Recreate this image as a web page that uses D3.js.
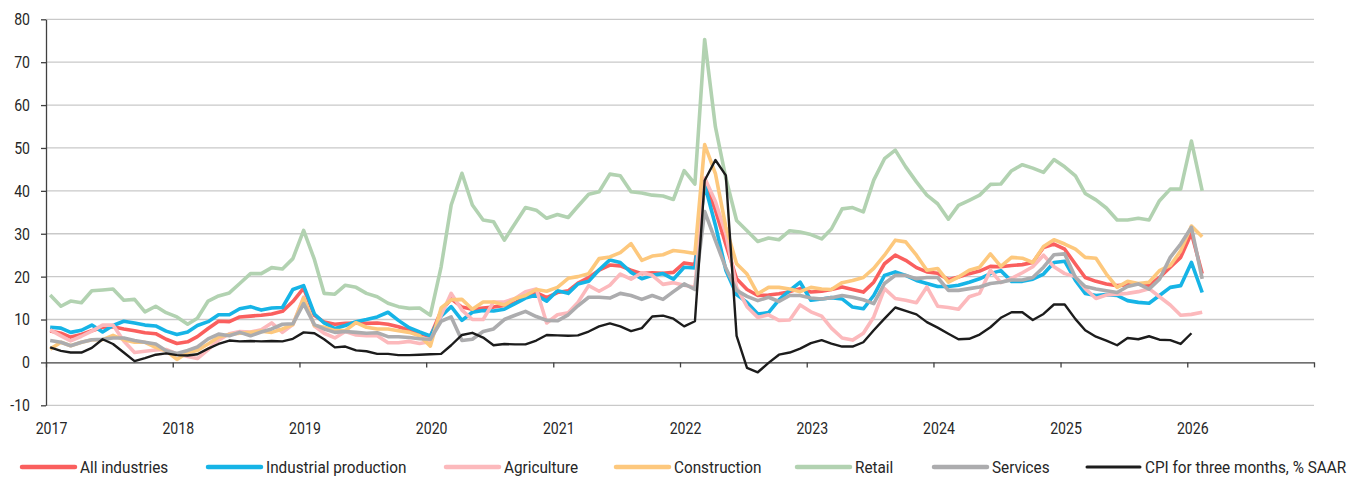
<!DOCTYPE html>
<html>
<head>
<meta charset="utf-8">
<script src="https://cdn.jsdelivr.net/npm/d3@7"></script>
<style>
  body { margin: 0; background: #fff; }
  text { font-family: Roboto, "Noto Sans", sans-serif; fill: #262626; }
</style>
</head>
<body>
<div id="chart"></div>
<script>
// monthly values, Jan 2017 .. Feb 2026 (CPI to Jan 2026)
var allIndustries = [
  7.3, 6.8, 5.9, 6.5, 7.4, 8.2, 8.3, 7.8, 7.4, 6.9, 6.7, 5.4,
  4.4, 4.8, 6.0, 7.9, 9.6, 9.5, 10.6, 10.8, 11.0, 11.3, 11.9, 14.2,
  17.3, 11.0, 9.4, 8.9, 9.1, 9.2, 9.1, 9.2, 8.9, 8.3, 7.5, 6.7,
  6.1, 12.0, 14.8, 12.9, 12.4, 12.7, 12.9, 13.3, 13.9, 15.3, 16.3, 15.1,
  16.3, 16.7, 18.5, 19.8, 21.5, 22.7, 22.5, 21.5, 20.7, 20.9, 20.8, 21.0,
  23.2, 22.8, 42.0, 35.5, 27.5, 19.5, 17.0, 15.6, 15.7, 16.0, 16.5, 17.2,
  16.4, 16.6, 17.0, 17.6, 17.0, 16.4, 18.7, 23.0, 25.0, 23.8, 22.1, 21.1,
  20.8, 19.3, 19.9, 20.7, 21.3, 22.4, 22.3, 22.6, 22.8, 23.3, 26.8, 27.6,
  26.4, 22.9, 19.8, 18.9, 18.3, 17.9, 18.1, 18.3, 17.9, 19.8, 22.2, 24.5,
  30.1, 20.7
];
var industrialProduction = [
  8.2, 8.0, 7.0, 7.5, 8.7, 7.1, 8.6, 9.6, 9.2, 8.7, 8.5, 7.3,
  6.5, 7.1, 8.6, 9.5, 11.1, 11.1, 12.5, 13.0, 12.2, 12.7, 12.8, 17.0,
  17.9, 11.3, 9.2, 7.9, 8.6, 9.5, 10.0, 10.6, 11.7, 9.8, 8.1, 7.1,
  6.2, 10.8, 13.0, 9.8, 11.7, 12.1, 12.0, 12.4, 13.7, 15.0, 15.7, 14.3,
  16.7, 16.1, 18.3, 18.9, 21.6, 23.9, 23.3, 21.0, 19.5, 20.3, 20.7, 19.4,
  22.2, 22.0, 41.5, 32.0, 21.5, 15.8, 14.0, 11.3, 11.6, 14.6, 16.8, 18.7,
  14.5, 14.8, 15.1, 14.8, 12.9, 12.5, 15.6, 20.3, 21.1, 20.3, 19.1, 18.4,
  17.7, 17.7, 18.0, 18.7, 19.5, 20.7, 21.4, 18.9, 18.9, 19.4, 20.6, 23.3,
  23.6, 19.1, 16.1, 15.6, 15.8, 15.6, 14.4, 14.0, 13.8, 15.6, 17.5, 17.9,
  23.3, 16.3
];
var agriculture = [
  7.6, 6.2, 5.0, 6.1, 7.3, 8.7, 8.7, 5.0, 2.3, 2.6, 2.9, 3.0,
  2.0, 1.4, 0.9, 3.0, 5.2, 6.7, 7.2, 7.1, 7.6, 9.2, 7.0, 8.8,
  15.2, 8.5, 6.8, 5.7, 7.2, 6.4, 6.2, 6.2, 4.6, 4.6, 4.9, 4.4,
  4.9, 11.0, 16.1, 12.2, 10.0, 10.0, 14.1, 14.1, 14.9, 16.5, 17.1, 9.2,
  11.1, 11.6, 14.0, 17.9, 16.6, 18.0, 20.6, 19.4, 20.9, 20.3, 18.2, 18.6,
  18.0, 17.5, 43.0, 37.5, 30.0, 17.5, 13.0, 10.5, 11.1, 9.8, 9.9, 13.4,
  11.8, 10.8, 8.0, 5.7, 5.2, 6.8, 10.6, 17.2, 14.9, 14.5, 13.9, 17.6,
  13.1, 12.8, 12.4, 15.3, 16.1, 21.5, 18.6, 19.6, 20.9, 22.3, 25.0, 22.3,
  20.7, 20.0, 17.2, 14.9, 15.7, 15.9, 16.1, 16.5, 17.2, 15.3, 13.4, 11.0,
  11.2, 11.7
];
var construction = [
  3.1, 4.7, 3.9, 4.7, 5.3, 5.3, 6.3, 5.3, 4.7, 4.7, 3.5, 2.7,
  0.7, 2.3, 2.8, 4.3, 5.9, 6.5, 6.8, 7.0, 7.3, 7.0, 7.8, 8.8,
  15.0, 8.6, 8.2, 7.4, 7.4, 9.3, 8.2, 7.8, 7.8, 7.4, 7.0, 6.2,
  3.8, 12.7, 14.6, 14.7, 12.4, 14.1, 14.1, 13.4, 14.9, 15.6, 17.0, 16.6,
  17.5, 19.6, 20.0, 20.7, 24.2, 24.6, 25.6, 27.7, 23.8, 24.8, 25.1, 26.1,
  25.8, 25.4, 50.8, 44.0, 31.6, 23.0, 20.6, 16.0, 17.5, 17.5, 17.1, 16.5,
  17.5, 17.1, 17.0, 18.6, 19.1, 19.8, 21.9, 25.0, 28.5, 28.1, 25.0, 21.5,
  21.9, 18.7, 19.9, 21.5, 22.2, 25.3, 22.4, 24.5, 24.3, 23.3, 27.0, 28.6,
  27.6, 26.4, 24.5, 24.3, 20.6, 17.5, 18.9, 18.4, 18.7, 21.4, 22.6, 26.0,
  31.8, 29.3
];
var retail = [
  15.7, 13.1, 14.3, 13.9, 16.7, 16.9, 17.1, 14.5, 14.7, 11.8, 13.1, 11.6,
  10.6, 8.9, 10.3, 14.3, 15.5, 16.2, 18.4, 20.7, 20.7, 22.1, 21.8, 24.2,
  30.8, 24.0, 16.1, 15.9, 18.0, 17.5, 16.1, 15.3, 13.8, 13.0, 12.6, 12.7,
  11.0, 22.3, 36.7, 44.1, 36.7, 33.2, 32.8, 28.5, 32.4, 36.1, 35.5, 33.6,
  34.5, 33.8, 36.4, 39.2, 39.8, 43.9, 43.5, 39.8, 39.5, 39.0, 38.8, 38.0,
  44.7, 41.6, 75.3, 54.9, 43.0, 33.1, 30.7, 28.2, 29.0, 28.6, 30.7, 30.4,
  29.8, 28.8, 31.1, 35.8, 36.1, 35.1, 42.5, 47.5, 49.5, 45.6, 42.1, 39.0,
  37.0, 33.4, 36.6, 37.8, 39.0, 41.5, 41.6, 44.7, 46.1, 45.3, 44.3, 47.3,
  45.6, 43.5, 39.4, 37.9, 36.0, 33.2, 33.2, 33.6, 33.2, 37.7, 40.4, 40.4,
  51.6, 40.0
];
var services = [
  5.1, 4.7, 3.9, 4.7, 5.3, 5.4, 5.7, 5.7, 5.1, 4.7, 4.3, 2.7,
  2.1, 2.8, 3.6, 5.5, 6.6, 6.2, 7.0, 6.2, 7.1, 7.8, 8.9, 9.0,
  13.7, 8.8, 7.8, 7.0, 7.2, 7.0, 6.8, 6.9, 6.0, 6.0, 5.8, 5.5,
  5.4, 9.6, 10.6, 5.1, 5.4, 7.2, 7.8, 10.0, 11.0, 11.9, 10.7, 9.8,
  9.7, 11.1, 13.2, 15.2, 15.2, 15.0, 16.1, 15.6, 14.7, 15.6, 14.7, 16.5,
  18.3, 17.0, 35.2, 28.4, 22.0, 16.8, 15.4, 14.4, 15.2, 14.2, 15.6, 15.6,
  15.0, 14.8, 15.1, 15.6, 15.2, 14.6, 13.7, 18.4, 20.3, 20.3, 19.5, 19.8,
  19.8, 16.8, 16.8, 17.2, 17.6, 18.4, 18.7, 19.2, 19.2, 19.8, 22.2, 25.1,
  25.3, 19.8, 17.7, 17.1, 16.7, 16.3, 17.7, 18.3, 17.1, 19.4, 24.5, 27.6,
  31.5, 19.5
];
var cpi3mSaar = [
  3.5, 2.7, 2.3, 2.3, 3.4, 5.4, 4.3, 2.3, 0.3, 1.0, 1.8, 2.1,
  1.7, 1.6, 1.9, 3.2, 4.3, 5.1, 4.9, 5.0, 4.9, 5.0, 4.9, 5.5,
  7.0, 6.8, 5.4, 3.5, 3.7, 2.8, 2.6, 2.0, 2.0, 1.7, 1.7, 1.8,
  1.9, 2.0, 4.0, 6.4, 6.9, 5.8, 4.0, 4.3, 4.2, 4.2, 5.1, 6.4,
  6.3, 6.2, 6.3, 7.2, 8.4, 9.1, 8.4, 7.3, 8.0, 10.7, 10.9, 10.2,
  8.4, 9.6, 42.4, 47.2, 43.6, 6.2, -1.3, -2.3, -0.1, 1.8, 2.3, 3.2,
  4.5, 5.2, 4.4, 3.7, 3.7, 4.7, 7.5, 10.2, 12.8, 12.0, 11.2, 9.4,
  8.1, 6.7, 5.4, 5.5, 6.5, 8.2, 10.4, 11.7, 11.7, 9.9, 11.3, 13.5,
  13.5, 10.1, 7.5, 6.0, 5.1, 4.0, 5.7, 5.4, 6.1, 5.3, 5.2, 4.3,
  6.8
];

var seriesNames = ["All industries", "Industrial production", "Agriculture", "Construction",
                   "Retail", "Services", "CPI for three months, % SAAR"];
var seriesValues = [allIndustries, industrialProduction, agriculture, construction,
                    retail, services, cpi3mSaar];
var yTickValues = [-10, 0, 10, 20, 30, 40, 50, 60, 70, 80];
var years = [2017, 2018, 2019, 2020, 2021, 2022, 2023, 2024, 2025, 2026, 2027];

// styles
var colors = ["#fa5f5e", "#16b4e6", "#fcb9bc", "#fdc87d", "#b2d2b1", "#acacae", "#1c1c1c"];
var widths = [3.6, 3.6, 3.6, 3.6, 3.6, 3.6, 2.4];
var legendX = [22, 208, 446, 616, 797, 934, 1087];

var svgWidth = 1348;
var svgHeight = 477;
var sx = 0.83;   // horizontal squeeze of axis labels (narrow font)
var lsx = 0.9;   // same for legend labels

var svg = d3.select("#chart")
  .append("svg")
  .attr("width", svgWidth)
  .attr("height", svgHeight);

var x = d3.scaleTime()
  .domain([new Date(2017, 0, 1), new Date(2027, 0, 1)])
  .range([46, 1314]);

var y = d3.scaleLinear()
  .domain([-10, 80])
  .range([405.3, 19.3]);

// gridlines
svg.append("g")
  .selectAll("line")
  .data(yTickValues.filter(d => d !== 0))
  .enter()
  .append("line")
  .attr("x1", x.range()[0])
  .attr("x2", x.range()[1])
  .attr("y1", d => y(d))
  .attr("y2", d => y(d))
  .attr("stroke", "#c9c9c9")
  .attr("stroke-width", 1.3);

// y axis
var leftAxis = d3.axisLeft(y)
  .tickValues(yTickValues)
  .tickSize(5)
  .tickSizeOuter(0)
  .tickFormat(d => String(d));

var yG = svg.append("g")
  .attr("transform", `translate(${x.range()[0]},0)`)
  .call(leftAxis);
yG.select(".domain").attr("stroke", "#404040").attr("stroke-width", 1.3);
yG.selectAll(".tick line").attr("stroke", "#404040").attr("stroke-width", 1.3);
yG.selectAll(".tick text")
  .attr("font-size", 17)
  .attr("font-family", null)
  .attr("fill", "#262626")
  .attr("x", -16 / sx)
  .attr("transform", `scale(${sx},1)`);

// x axis along zero
var bottomAxis = d3.axisBottom(x)
  .tickValues(years.map(yr => new Date(yr, 0, 1)))
  .tickSize(5)
  .tickSizeOuter(0)
  .tickPadding(55)
  .tickFormat(d => d.getFullYear() < 2027 ? d3.timeFormat("%Y")(d) : "");

var xG = svg.append("g")
  .attr("transform", `translate(0,${y(0)})`)
  .call(bottomAxis);
xG.select(".domain").attr("stroke", "#404040").attr("stroke-width", 1.3);
xG.selectAll(".tick line").attr("stroke", "#404040").attr("stroke-width", 1.3);
xG.selectAll(".tick text")
  .attr("font-size", 17)
  .attr("font-family", null)
  .attr("fill", "#262626")
  .attr("x", 5 / sx)
  .attr("transform", `scale(${sx},1)`);

// lines
var line = d3.line()
  .x((d, i) => x(new Date(2017, i, 13)))
  .y(d => y(d));

svg.append("g")
  .selectAll("path")
  .data(seriesValues)
  .enter()
  .append("path")
  .attr("d", d => line(d))
  .attr("fill", "none")
  .attr("stroke", (d, i) => colors[i])
  .attr("stroke-width", (d, i) => widths[i])
  .attr("stroke-linejoin", "round");

// legend
var legend = svg.append("g")
  .selectAll("g")
  .data(seriesNames)
  .enter()
  .append("g")
  .attr("transform", (d, i) => `translate(${legendX[i]},467)`);

legend.append("line")
  .attr("x1", 0)
  .attr("x2", 53)
  .attr("stroke", (d, i) => colors[i])
  .attr("stroke-width", (d, i) => i === 6 ? 3 : 4.5)
  .attr("stroke-linecap", "round");

legend.append("text")
  .attr("x", 58 / lsx)
  .attr("dy", "0.35em")
  .attr("font-size", 17)
  .attr("transform", `scale(${lsx},1)`)
  .text(d => d);
</script>
</body>
</html>
